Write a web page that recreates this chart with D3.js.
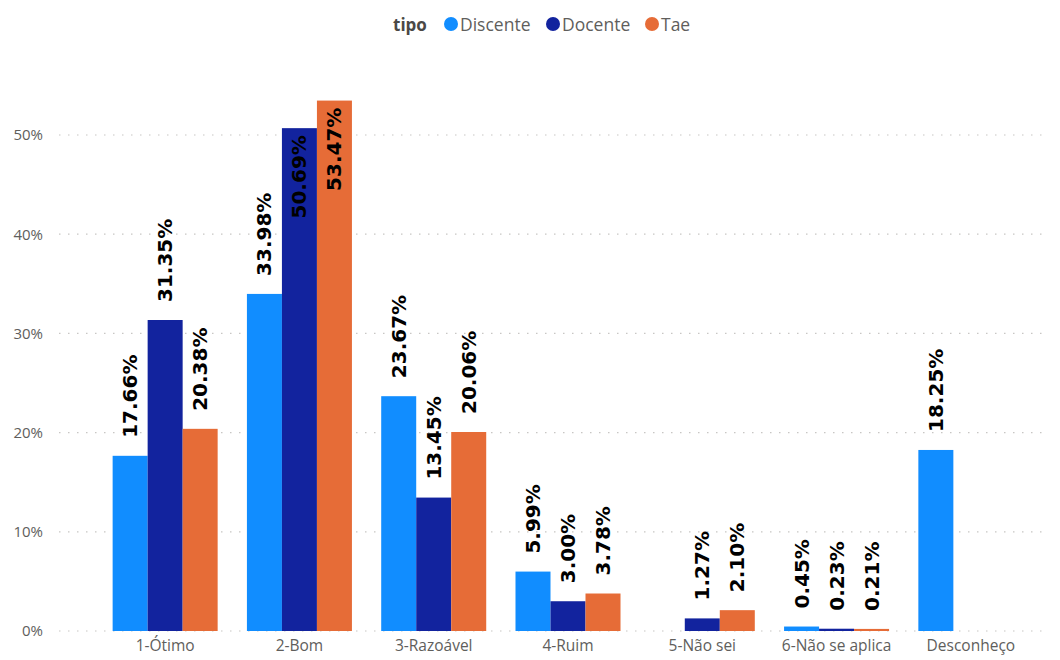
<!DOCTYPE html>
<html>
<head>
<meta charset="utf-8">
<script src="https://cdn.jsdelivr.net/npm/d3@7"></script>
<style>
  html, body { margin: 0; padding: 0; background: #ffffff; }
  svg { display: block; }
</style>
</head>
<body>
<svg id="chart" width="1060" height="660"></svg>
<script>
const categories = ["1-Ótimo", "2-Bom", "3-Razoável", "4-Ruim", "5-Não sei", "6-Não se aplica", "Desconheço"];
const seriesNames = ["Discente", "Docente", "Tae"];
const discente = [17.66, 33.98, 23.67, 5.99, null, 0.45, 18.25];
const docente  = [31.35, 50.69, 13.45, 3.00, 1.27, 0.23, null];
const tae      = [20.38, 53.47, 20.06, 3.78, 2.10, 0.21, null];
const yTicks = [0, 10, 20, 30, 40, 50];
const colors = ["#118DFF", "#12239E", "#E66C37"];

const seriesValues = [discente, docente, tae];
const svg = d3.select("#chart");

const x0 = d3.scaleBand().domain(categories).range([98, 1038]).paddingInner(0.218).paddingOuter(0.109);
const x1 = d3.scaleBand().domain(seriesNames).range([0, x0.bandwidth()]).padding(0);
const y = d3.scaleLinear().domain([0, 55]).range([631, 631 - 55 * 9.92]);
const color = d3.scaleOrdinal().domain(seriesNames).range(colors);

// gridlines
const grid = svg.append("g").attr("class", "grid");
grid.selectAll("line").data(yTicks).join("line")
  .attr("x1", 59).attr("x2", 1046)
  .attr("y1", d => y(d)).attr("y2", d => y(d))
  .attr("stroke", "#c8c6c4").attr("stroke-width", 1.2)
  .attr("stroke-dasharray", "1.5,7.5");

// y axis
const yAxis = d3.axisLeft(y).tickValues(yTicks).tickFormat(d => d + "%").tickSize(0).tickPadding(0);
const yg = svg.append("g").attr("transform", "translate(43,0)").call(yAxis);
yg.select(".domain").remove();
yg.selectAll("text").attr("fill", "#605E5C").style("font-family", "'Open Sans', sans-serif").style("font-size", "15px");

// x axis
const xAxis = d3.axisBottom(x0).tickSize(0).tickPadding(0);
const xg = svg.append("g").attr("transform", "translate(0,640)").call(xAxis);
xg.select(".domain").remove();
xg.selectAll("text").attr("fill", "#605E5C").style("font-family", "'Open Sans', sans-serif").style("font-size", "15.5px");

// data
const rows = [];
categories.forEach((c, i) => {
  seriesNames.forEach((s, j) => {
    const v = seriesValues[j][i];
    if (v !== null && v !== undefined) rows.push({ cat: c, series: s, value: v });
  });
});

const bars = svg.append("g");
bars.selectAll("rect").data(rows).join("rect")
  .attr("x", d => x0(d.cat) + x1(d.series))
  .attr("width", x1.bandwidth())
  .attr("y", d => y(d.value))
  .attr("height", d => y(0) - y(d.value))
  .attr("fill", d => color(d.series));

// labels
const labels = svg.append("g");
const plotTop = 100;
labels.selectAll("text").data(rows).join("text")
  .text(d => d.value.toFixed(2) + "%")
  .style("font-family", "'DejaVu Sans', sans-serif")
  .style("font-weight", "bold")
  .style("font-size", "20px")
  .attr("fill", "#000")
  .attr("dominant-baseline", "central")
  .each(function(d) {
    const len = this.getComputedTextLength();
    const cx = x0(d.cat) + x1(d.series) + x1.bandwidth() / 2;
    const top = y(d.value);
    const outsideStart = top - 18;
    let ty, anchor;
    if (outsideStart - len < plotTop) {
      ty = top + 7; anchor = "end";
    } else {
      ty = outsideStart; anchor = "start";
    }
    d3.select(this)
      .attr("text-anchor", anchor)
      .attr("transform", `translate(${cx},${ty}) rotate(-90)`);
  });

// legend
const legend = svg.append("g").style("font-family", "'Open Sans', sans-serif");
legend.append("text").attr("x", 393).attr("y", 24).attr("dominant-baseline", "central")
  .style("font-size", "17px").style("font-weight", "bold").attr("fill", "#4a4846").text("tipo");
const legendX = [451, 553, 652];
const li = legend.selectAll("g.item").data(seriesNames).join("g").attr("class", "item")
  .attr("transform", (d, i) => `translate(${legendX[i]},24)`);
li.append("circle").attr("r", 7).attr("fill", d => color(d));
li.append("text").attr("x", 9).attr("dominant-baseline", "central")
  .style("font-size", "17.5px").attr("fill", "#605E5C").text(d => d);
</script>
</body>
</html>
